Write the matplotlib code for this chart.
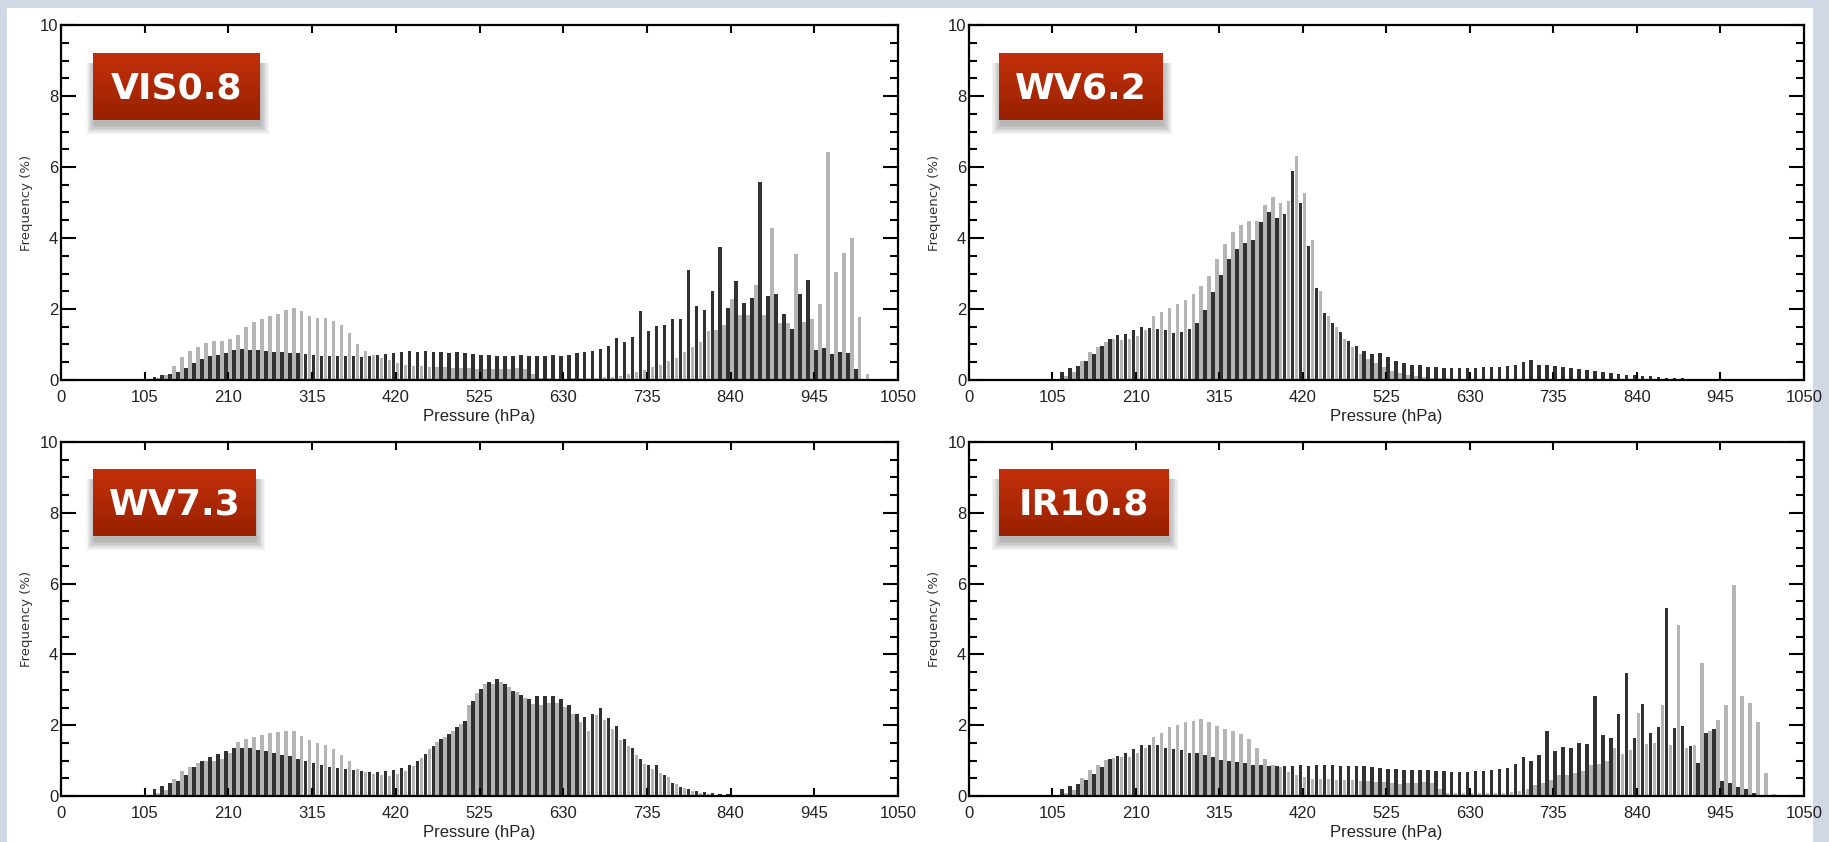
"""Four-panel pressure histograms (grey vs dark bars) with red channel badges."""
import numpy as np
import matplotlib.pyplot as plt
from matplotlib.patches import Rectangle
from matplotlib.ticker import MultipleLocator
from matplotlib.colors import LinearSegmentedColormap

W, H, DPI = 1829, 842, 100

# bin start (hPa), 10 hPa bins
P_BINS = np.arange(110, 1020, 10)

VIS_GREY = [
    0.00, 0.05, 0.14, 0.40, 0.64, 0.82, 0.93, 1.05, 1.09, 1.09,   # 110-200
    1.15, 1.26, 1.49, 1.63, 1.73, 1.81, 1.87, 1.96, 2.02, 1.93,   # 210-300
    1.81, 1.76, 1.76, 1.67, 1.55, 1.31, 1.00, 0.82, 0.70, 0.62,   # 310-400
    0.55, 0.47, 0.42, 0.40, 0.40, 0.38, 0.38, 0.38, 0.35, 0.35,   # 410-500
    0.35, 0.32, 0.32, 0.32, 0.32, 0.32, 0.35, 0.32, 0.16, 0.06,   # 510-600
    0.06, 0.03, 0.02, 0.06, 0.06, 0.06, 0.06, 0.08, 0.08, 0.11,   # 610-700
    0.16, 0.23, 0.28, 0.38, 0.43, 0.54, 0.61, 0.79, 0.94, 1.08,   # 710-800
    1.38, 1.41, 1.55, 2.28, 1.84, 1.84, 2.67, 1.82, 4.28, 1.61,   # 810-900
    1.61, 3.55, 1.63, 1.73, 2.14, 6.42, 3.05, 3.58, 3.99, 1.78,   # 910-1000
    0.16]
VIS_DARK = [
    0.08, 0.14, 0.17, 0.23, 0.35, 0.49, 0.58, 0.68, 0.70, 0.76,
    0.85, 0.87, 0.85, 0.85, 0.82, 0.79, 0.79, 0.76, 0.76, 0.73,
    0.70, 0.68, 0.68, 0.68, 0.68, 0.68, 0.65, 0.68, 0.70, 0.73,
    0.76, 0.79, 0.82, 0.79, 0.82, 0.79, 0.79, 0.76, 0.79, 0.76,
    0.72, 0.70, 0.70, 0.68, 0.68, 0.68, 0.70, 0.67, 0.67, 0.67,
    0.70, 0.67, 0.70, 0.76, 0.79, 0.82, 0.87, 0.96, 1.17, 1.06,
    1.20, 1.93, 1.37, 1.52, 1.55, 1.73, 1.73, 3.11, 2.08, 1.96,
    2.50, 3.76, 2.02, 2.78, 2.17, 2.31, 5.57, 2.38, 2.43, 1.87,
    1.44, 2.43, 2.81, 0.85, 0.90, 0.73, 0.79, 0.76, 0.32, 0.03,
    0.00]

WV62_GREY = [
    0.00, 0.10, 0.23, 0.54, 0.79, 0.93, 1.08, 1.15, 1.13, 1.16,
    1.24, 1.41, 1.79, 1.91, 2.02, 2.13, 2.24, 2.43, 2.64, 2.93,
    3.40, 3.83, 4.17, 4.37, 4.49, 4.49, 4.93, 5.15, 4.98, 5.04,
    6.31, 5.28, 3.93, 2.52, 1.79, 1.49, 1.16, 0.94, 0.73, 0.58,
    0.47, 0.36, 0.26, 0.19, 0.13, 0.11, 0.09, 0.07, 0.06, 0.05,
    0.04, 0.04, 0.03, 0.03, 0.03, 0.03, 0.03, 0.03, 0.03, 0.03,
    0.02, 0.02, 0.02, 0.02, 0.02, 0.02, 0.01, 0.01, 0.01, 0.01,
    0.01, 0.01, 0.01, 0.01, 0.01, 0.01, 0.00, 0.00, 0.00, 0.00,
    0.00, 0.00, 0.00, 0.00, 0.00, 0.00, 0.00, 0.00, 0.00, 0.00,
    0.00]
WV62_DARK = [
    0.23, 0.35, 0.40, 0.54, 0.73, 0.97, 1.15, 1.27, 1.30, 1.41,
    1.49, 1.46, 1.44, 1.40, 1.31, 1.34, 1.44, 1.61, 1.96, 2.49,
    2.96, 3.40, 3.69, 3.87, 3.93, 4.46, 4.72, 4.57, 4.69, 5.90,
    4.99, 3.78, 2.58, 1.90, 1.61, 1.34, 1.11, 0.97, 0.81, 0.73,
    0.76, 0.64, 0.53, 0.47, 0.41, 0.41, 0.38, 0.36, 0.35, 0.35,
    0.35, 0.35, 0.35, 0.36, 0.37, 0.38, 0.40, 0.42, 0.50, 0.56,
    0.42, 0.42, 0.40, 0.36, 0.35, 0.32, 0.28, 0.25, 0.23, 0.20,
    0.18, 0.15, 0.13, 0.12, 0.10, 0.09, 0.07, 0.06, 0.05, 0.04,
    0.03, 0.03, 0.02, 0.02, 0.01, 0.01, 0.00, 0.00, 0.00, 0.00,
    0.00]

WV73_GREY = [
    0.00, 0.08, 0.17, 0.47, 0.71, 0.82, 0.93, 1.00, 1.00, 1.05,
    1.22, 1.53, 1.61, 1.68, 1.72, 1.79, 1.81, 1.83, 1.83, 1.69,
    1.58, 1.49, 1.43, 1.32, 1.17, 1.00, 0.75, 0.67, 0.62, 0.59,
    0.56, 0.62, 0.71, 0.85, 1.07, 1.32, 1.53, 1.68, 1.85, 2.02,
    2.57, 2.91, 3.16, 3.17, 3.22, 3.09, 2.94, 2.78, 2.60, 2.58,
    2.62, 2.62, 2.52, 2.33, 2.08, 1.85, 2.29, 2.15, 1.88, 1.58,
    1.40, 1.17, 0.90, 0.77, 0.64, 0.53, 0.34, 0.23, 0.15, 0.09,
    0.06, 0.04, 0.03, 0.02, 0.01, 0.01, 0.01, 0.01, 0.01, 0.00,
    0.00, 0.00, 0.00, 0.00, 0.00, 0.00, 0.00, 0.00, 0.00, 0.00,
    0.00]
WV73_DARK = [
    0.21, 0.29, 0.36, 0.43, 0.58, 0.82, 1.00, 1.11, 1.18, 1.26,
    1.37, 1.37, 1.37, 1.31, 1.26, 1.22, 1.16, 1.14, 1.05, 0.99,
    0.93, 0.87, 0.81, 0.78, 0.76, 0.73, 0.71, 0.69, 0.67, 0.71,
    0.73, 0.79, 0.87, 1.00, 1.20, 1.40, 1.61, 1.76, 1.94, 2.11,
    2.67, 3.01, 3.22, 3.31, 3.15, 2.97, 2.85, 2.73, 2.82, 2.82,
    2.82, 2.73, 2.56, 2.33, 2.24, 2.33, 2.50, 2.21, 1.98, 1.61,
    1.37, 1.05, 0.88, 0.88, 0.58, 0.38, 0.26, 0.20, 0.13, 0.10,
    0.08, 0.06, 0.05, 0.04, 0.02, 0.01, 0.01, 0.01, 0.00, 0.00,
    0.00, 0.00, 0.00, 0.00, 0.00, 0.00, 0.00, 0.00, 0.00, 0.00,
    0.00]

IR108_GREY = [
    0.00, 0.08, 0.17, 0.50, 0.73, 0.87, 1.01, 1.08, 1.11, 1.11,
    1.21, 1.35, 1.68, 1.79, 1.94, 2.00, 2.09, 2.11, 2.18, 2.08,
    1.97, 1.90, 1.85, 1.76, 1.61, 1.37, 1.05, 0.88, 0.81, 0.67,
    0.58, 0.55, 0.49, 0.49, 0.47, 0.46, 0.46, 0.44, 0.43, 0.41,
    0.40, 0.39, 0.37, 0.34, 0.36, 0.38, 0.40, 0.38, 0.20, 0.08,
    0.08, 0.08, 0.08, 0.08, 0.09, 0.09, 0.09, 0.11, 0.14, 0.20,
    0.32, 0.38, 0.44, 0.59, 0.59, 0.65, 0.71, 0.88, 0.91, 1.00,
    1.35, 1.18, 1.30, 2.35, 1.47, 1.50, 2.56, 1.44, 4.83, 1.35,
    1.44, 3.77, 1.83, 2.15, 2.56, 5.95, 2.82, 2.62, 2.09, 0.65,
    0.05]
IR108_DARK = [
    0.20, 0.29, 0.35, 0.46, 0.61, 0.82, 1.04, 1.14, 1.21, 1.32,
    1.43, 1.43, 1.43, 1.37, 1.32, 1.29, 1.22, 1.22, 1.17, 1.11,
    1.02, 0.99, 0.96, 0.93, 0.88, 0.88, 0.85, 0.85, 0.85, 0.85,
    0.88, 0.85, 0.88, 0.88, 0.88, 0.85, 0.85, 0.85, 0.85, 0.82,
    0.78, 0.76, 0.76, 0.73, 0.73, 0.73, 0.73, 0.71, 0.71, 0.68,
    0.68, 0.68, 0.71, 0.71, 0.73, 0.76, 0.79, 0.91, 1.09, 1.00,
    1.16, 1.83, 1.26, 1.38, 1.35, 1.50, 1.47, 2.83, 1.71, 1.65,
    2.33, 3.48, 1.65, 2.59, 1.77, 1.94, 5.30, 1.91, 1.98, 1.41,
    0.92, 1.77, 1.88, 0.41, 0.38, 0.25, 0.20, 0.08, 0.03, 0.03,
    0.00]

LABELS = ["VIS0.8", "WV6.2", "WV7.3", "IR10.8"]
XTICKS = np.arange(0, 1051, 105)

GREY, DARK = "#b5b5b5", "#313131"
NARROW = ["DejaVu Sans Condensed", "Liberation Sans Narrow", "Liberation Sans"]

fig = plt.figure(figsize=(W / DPI, H / DPI), dpi=DPI, facecolor="#cfd8e4")
fig.add_artist(Rectangle((7 / W, 0), (1813 - 7) / W, (H - 8) / H,
                         transform=fig.transFigure, facecolor="white",
                         edgecolor="none", zorder=-5))

# axes frames in pixels: left, top, right, bottom
FRAMES = [(61, 25, 898, 380), (969, 25, 1804, 380),
          (61, 442, 898, 796), (969, 442, 1804, 796)]
# badge boxes in pixels: left, top, width, height
BOXES = [(93, 53, 167, 67), (999, 53, 164, 67),
         (93, 469, 163, 67), (999, 469, 170, 67)]

badge_cmap = LinearSegmentedColormap.from_list("badge", ["#c3300b", "#982100"])


def panel(frame, grey, dark):
    l, t, r, b = frame
    ax = fig.add_axes([l / W, 1 - b / H, (r - l) / W, (b - t) / H])
    ax.bar(P_BINS + 2, grey, width=4.4, color=GREY, linewidth=0)
    ax.bar(P_BINS + 7, dark, width=4.4, color=DARK, linewidth=0)
    ax.set_xlim(0, 1050)
    ax.set_ylim(0, 10)
    ax.set_xticks(XTICKS)
    ax.yaxis.set_major_locator(MultipleLocator(2))
    ax.yaxis.set_minor_locator(MultipleLocator(0.5))
    for s in ax.spines.values():
        s.set_linewidth(1.6)
    ax.tick_params(axis="x", which="major", direction="in", top=True, bottom=True,
                   length=5.5, width=1.5, pad=7, labelsize=12, labelcolor="#222")
    ax.tick_params(axis="y", which="major", direction="in", left=True, right=True,
                   length=11, width=1.5, pad=2, labelsize=12, labelcolor="#222")
    ax.tick_params(axis="y", which="minor", direction="in", left=True, right=True,
                   length=5.5, width=1.5)
    for lab in ax.get_xticklabels() + ax.get_yticklabels():
        lab.set_family(NARROW)
    ax.set_xlabel("Pressure (hPa)", family=NARROW, fontsize=12, color="#222",
                  labelpad=3)
    ax.set_ylabel("Frequency (%)", fontsize=9.5, color="#333", labelpad=5)
    return ax


def badge(box, text):
    x, y, w, h = box
    # soft drop shadow, mostly below the box
    for k in range(7):
        grow = k * 1.3
        fig.add_artist(Rectangle(((x + 1 - grow) / W, 1 - (y + h + 6 + grow) / H),
                                 (w + 2 * grow) / W, (h - 4 + grow) / H,
                                 transform=fig.transFigure, facecolor="black",
                                 edgecolor="none", alpha=0.045, zorder=4))
    bax = fig.add_axes([x / W, 1 - (y + h) / H, w / W, h / H], zorder=10)
    bax.imshow(np.linspace(0, 1, 64).reshape(-1, 1), aspect="auto",
               cmap=badge_cmap, extent=[0, 1, 0, 1])
    bax.set_axis_off()
    bax.text(0.5, 0.47, text, color="white", fontsize=26, fontweight="bold",
             family="DejaVu Sans", ha="center", va="center",
             transform=bax.transAxes)


series = [(VIS_GREY, VIS_DARK), (WV62_GREY, WV62_DARK),
          (WV73_GREY, WV73_DARK), (IR108_GREY, IR108_DARK)]
for frame, (g, d), box, lab in zip(FRAMES, series, BOXES, LABELS):
    panel(frame, g, d)
    badge(box, lab)

fig.savefig("out.png", dpi=DPI, facecolor=fig.get_facecolor())
